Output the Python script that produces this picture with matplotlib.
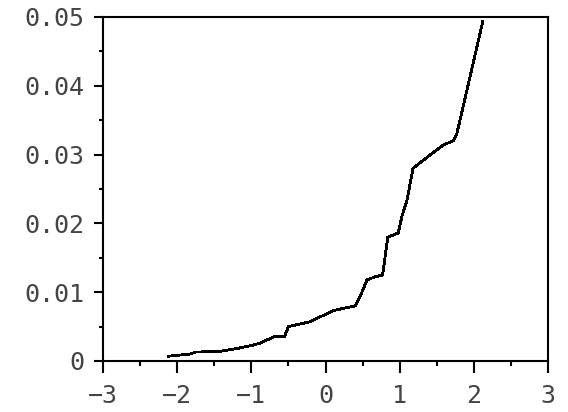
import matplotlib
matplotlib.use("Agg")
import matplotlib.pyplot as plt
from matplotlib.ticker import MultipleLocator, FixedFormatter, FixedLocator

# values
x_vals = [-2.12, -1.83, -1.75, -1.42, -1.20, -0.98, -0.88, -0.70, -0.55, -0.50,
          -0.21, 0.10, 0.22, 0.40, 0.46, 0.56, 0.66, 0.77, 0.84, 0.98,
          1.03, 1.10, 1.18, 1.32, 1.59, 1.72, 1.77, 2.12]
y_vals = [0.0007, 0.0010, 0.0013, 0.0014, 0.0018, 0.0023, 0.0026, 0.0035, 0.0036, 0.0050,
          0.0057, 0.0073, 0.0076, 0.0080, 0.0092, 0.0118, 0.0122, 0.0125, 0.0180, 0.0186,
          0.0210, 0.0234, 0.0280, 0.0292, 0.0314, 0.0320, 0.0330, 0.0493]

x_ticks = [-3, -2, -1, 0, 1, 2, 3]
x_labels = ["\u22123", "\u22122", "\u22121", "0", "1", "2", "3"]
y_ticks = [0, 0.01, 0.02, 0.03, 0.04, 0.05]
y_labels = ["0", "0.01", "0.02", "0.03", "0.04", "0.05"]

fig = plt.figure(figsize=(5.68, 4.12), dpi=100)
ax = fig.add_axes([103 / 568, 1 - 361 / 412, 445 / 568, 344 / 412])

ax.plot(x_vals, y_vals, color="black", linewidth=1.3, antialiased=False)

ax.set_xlim(-3, 3)
ax.set_ylim(0, 0.05)

ax.xaxis.set_major_locator(FixedLocator(x_ticks))
ax.xaxis.set_major_formatter(FixedFormatter(x_labels))
ax.xaxis.set_minor_locator(MultipleLocator(0.5))
ax.yaxis.set_major_locator(FixedLocator(y_ticks))
ax.yaxis.set_major_formatter(FixedFormatter(y_labels))
ax.yaxis.set_minor_locator(MultipleLocator(0.005))

for side in ["left", "bottom", "top", "right"]:
    ax.spines[side].set_linewidth(1.5)

ax.tick_params(axis="x", which="major", direction="out", length=8.6, width=1.5, pad=8,
               top=False, labelsize=18, colors="black")
ax.tick_params(axis="x", which="minor", direction="out", length=3.6, width=1.5, top=False)
ax.tick_params(axis="y", which="major", direction="out", length=6.5, width=1.5, pad=7,
               right=False, labelsize=18, colors="black")
ax.tick_params(axis="y", which="minor", direction="out", length=3, width=1.5, right=False)

for lab in ax.get_xticklabels() + ax.get_yticklabels():
    lab.set_family("DejaVu Sans Mono")
    lab.set_color("#444444")

fig.savefig("out.png", dpi=100)
